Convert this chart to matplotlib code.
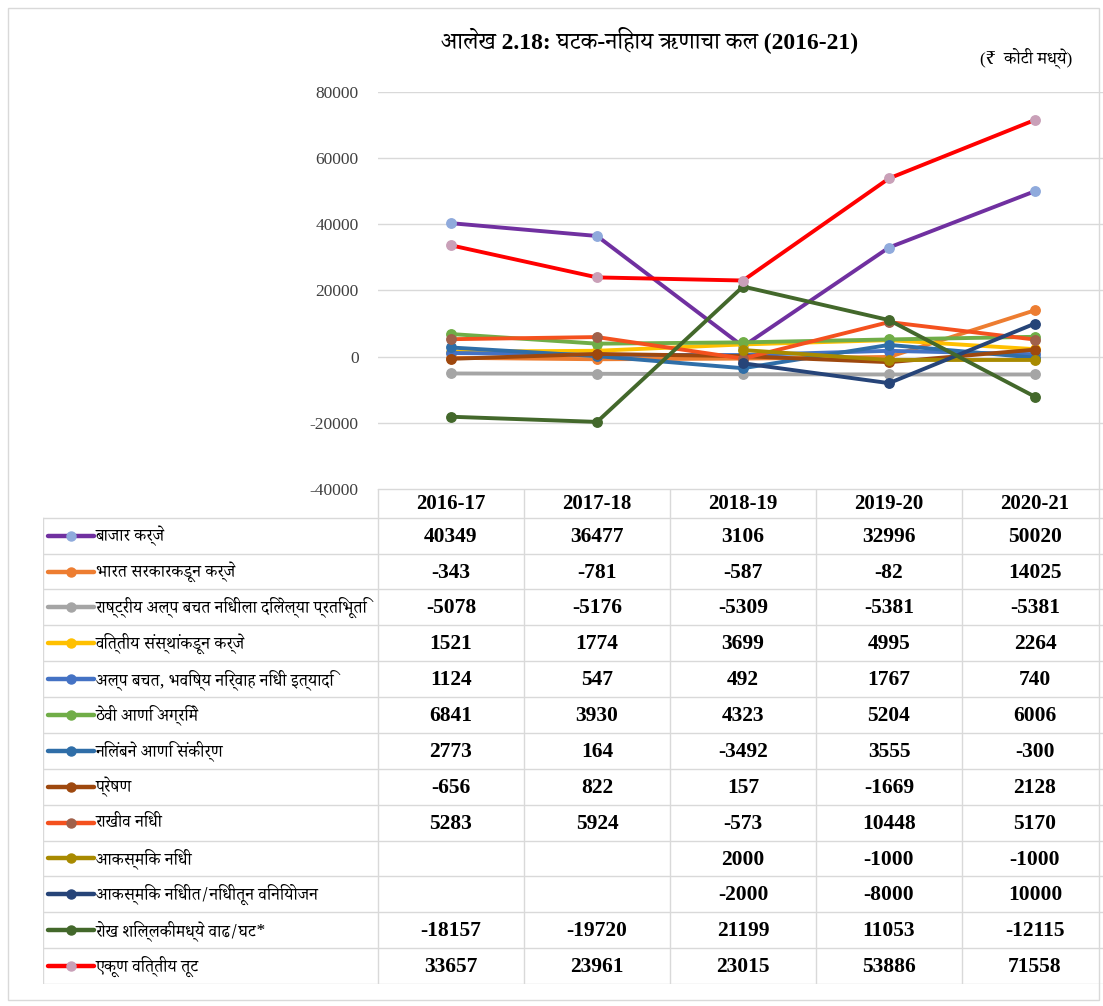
import matplotlib
matplotlib.use("Agg")
import matplotlib.pyplot as plt
from matplotlib import font_manager
from matplotlib.ft2font import FT2Font
from matplotlib.lines import Line2D
from matplotlib.patches import Rectangle
import numpy as np

# ---------------- data ----------------
years = ["2016-17", "2017-18", "2018-19", "2019-20", "2020-21"]
series_names = [
    "बाजार कर्जे",
    "भारत सरकारकडून कर्जे",
    "राष्ट्रीय अल्प बचत निधीला दिलेल्या प्रतिभूति",
    "वित्तीय संस्थांकडून कर्जे",
    "अल्प बचत, भविष्य निर्वाह निधी इत्यादि",
    "ठेवी आणि अग्रिमे",
    "निलंबने आणि संकीर्ण",
    "प्रेषण",
    "राखीव निधी",
    "आकस्मिक निधी",
    "आकस्मिक निधीत/निधीतून विनियोजन",
    "रोख शिल्लकीमध्ये वाढ/घट*",
    "एकूण वित्तीय तूट",
]
market_loans = [40349, 36477, 3106, 32996, 50020]
goi_loans = [-343, -781, -587, -82, 14025]
nssf_securities = [-5078, -5176, -5309, -5381, -5381]
fin_inst_loans = [1521, 1774, 3699, 4995, 2264]
small_savings = [1124, 547, 492, 1767, 740]
deposits_advances = [6841, 3930, 4323, 5204, 6006]
suspense_misc = [2773, 164, -3492, 3555, -300]
remittances = [-656, 822, 157, -1669, 2128]
reserve_funds = [5283, 5924, -573, 10448, 5170]
contingency_fund = [None, None, 2000, -1000, -1000]
contingency_appropriation = [None, None, -2000, -8000, 10000]
cash_balance_change = [-18157, -19720, 21199, 11053, -12115]
fiscal_deficit = [33657, 23961, 23015, 53886, 71558]

all_series = [market_loans, goi_loans, nssf_securities, fin_inst_loans, small_savings,
              deposits_advances, suspense_misc, remittances, reserve_funds,
              contingency_fund, contingency_appropriation, cash_balance_change,
              fiscal_deficit]

line_colors = ["#7030A0", "#ED7D31", "#A5A5A5", "#FFC000", "#4472C4", "#70AD47",
               "#2F6EA8", "#9E480E", "#F4511E", "#A88A00", "#264478", "#43682B",
               "#FF0000"]
marker_colors = ["#8FAADC", "#ED7D31", "#A5A5A5", "#FFC000", "#4472C4", "#70AD47",
                 "#2F6EA8", "#9E480E", "#A0604A", "#A88A00", "#264478", "#43682B",
                 "#C9A0B8"]

title = "आलेख 2.18: घटक-निहाय ऋणाचा कल (2016-21)"
units = "(₹  कोटी मध्ये)"
y_ticks = [-40000, -20000, 0, 20000, 40000, 60000, 80000]

# ---------------- fonts ----------------
def find_deva():
    prefs = ["Noto Serif Devanagari", "Noto Sans Devanagari", "Lohit Devanagari",
             "FreeSerif", "FreeSans"]
    found = []
    for f in font_manager.fontManager.ttflist:
        try:
            ft = FT2Font(f.fname)
            if all(ft.get_char_index(ord(c)) for c in "कखआि"):
                if f.name not in found:
                    found.append(f.name)
        except Exception:
            pass
    for p in prefs:
        if p in found:
            return p
    return found[0] if found else "DejaVu Sans"

deva = find_deva()
serif = "Liberation Serif"

# ---------------- figure ----------------
W, H = 1103, 1006
fig = plt.figure(figsize=(W / 100, H / 100), dpi=100)

def px(x0, y0, x1, y1):
    return [x0 / W, 1 - y1 / H, (x1 - x0) / W, (y1 - y0) / H]

ax_l, ax_r = 378, 1108
ax = fig.add_axes(px(ax_l, 92, ax_r, 489))
x = np.arange(len(years))

for vals, lc, mc in zip(all_series, line_colors, marker_colors):
    y = np.array([np.nan if v is None else v for v in vals], dtype=float)
    ax.plot(x, y, color=lc, lw=2.8, marker="o", ms=6.8, mfc=mc, mec=mc,
            solid_capstyle="round", zorder=3)

ax.set_xlim(-0.5, 4.5)
ax.set_ylim(-40000, 80000)
ax.set_yticks(y_ticks)
ax.set_yticklabels([str(t) for t in y_ticks], fontfamily=serif, fontsize=12.5, color="#404040")
ax.tick_params(axis="y", length=0, pad=14)
ax.set_xticks([])
for s in ax.spines.values():
    s.set_visible(False)
ax.grid(axis="y", color="#D9D9D9", lw=1)
ax.set_axisbelow(True)

# ---------------- table ----------------
tab_l, tab_t, tab_b = 43, 489, 984
unit_px = (ax_r - ax_l) / 5.0
left_x = -0.5 - (ax_l - tab_l) / unit_px
tax = fig.add_axes(px(tab_l, tab_t, ax_r, tab_b))
nrows = len(series_names)
head_h = 0.8
tax.set_xlim(left_x, 4.5)
tax.set_ylim(nrows, -head_h)
tax.axis("off")
gc = "#D9D9D9"
# horizontal lines
tax.plot([-0.5, 4.5], [-head_h, -head_h], color=gc, lw=1)
for r in range(0, nrows + 1):
    tax.plot([left_x, 4.5], [r, r], color=gc, lw=1)
# vertical lines
tax.plot([left_x, left_x], [0, nrows], color=gc, lw=1)
for c in range(6):
    tax.plot([c - 0.5, c - 0.5], [-head_h, nrows], color=gc, lw=1)

for j, yr in enumerate(years):
    tax.text(j, -head_h / 2 + 0.03, yr, ha="center", va="center", fontfamily=serif,
             fontweight="bold", fontsize=15)

for i, (name, vals, lc, mc) in enumerate(zip(series_names, all_series, line_colors, marker_colors)):
    r = i + 0.5
    key_x0 = left_x + 0.035
    key_x1 = left_x + 0.35
    tax.add_line(Line2D([key_x0, key_x1], [r, r], color=lc, lw=3.2,
                        solid_capstyle="round"))
    tax.add_line(Line2D([(key_x0 + key_x1) / 2], [r], marker="o", ms=6.5,
                        mfc=mc, mec=mc, lw=0))
    tax.text(key_x1 + 0.01, r, name, ha="left", va="center",
             fontfamily=[deva, "DejaVu Sans"], fontsize=12.2)
    for j, v in enumerate(vals):
        if v is None:
            continue
        tax.text(j, r + 0.03, str(v), ha="center", va="center", fontfamily=serif,
                 fontweight="bold", fontsize=15.5)

# ---------------- titles ----------------
fig.text(650 / W, 1 - 40 / H, title, ha="center", va="center",
         fontfamily=[serif, deva, "DejaVu Sans"], fontweight="bold", fontsize=17)
fig.text(1026 / W, 1 - 58 / H, units, ha="center", va="center",
         fontfamily=[serif, deva, "DejaVu Sans"], fontsize=12.5)

# outer border
fig.add_artist(Rectangle((8 / W, 1 - 1000 / H), (W - 12) / W, (1000 - 8) / H,
                         transform=fig.transFigure, fill=False, ec="#D9D9D9", lw=1))

fig.savefig("out.png", dpi=100)
